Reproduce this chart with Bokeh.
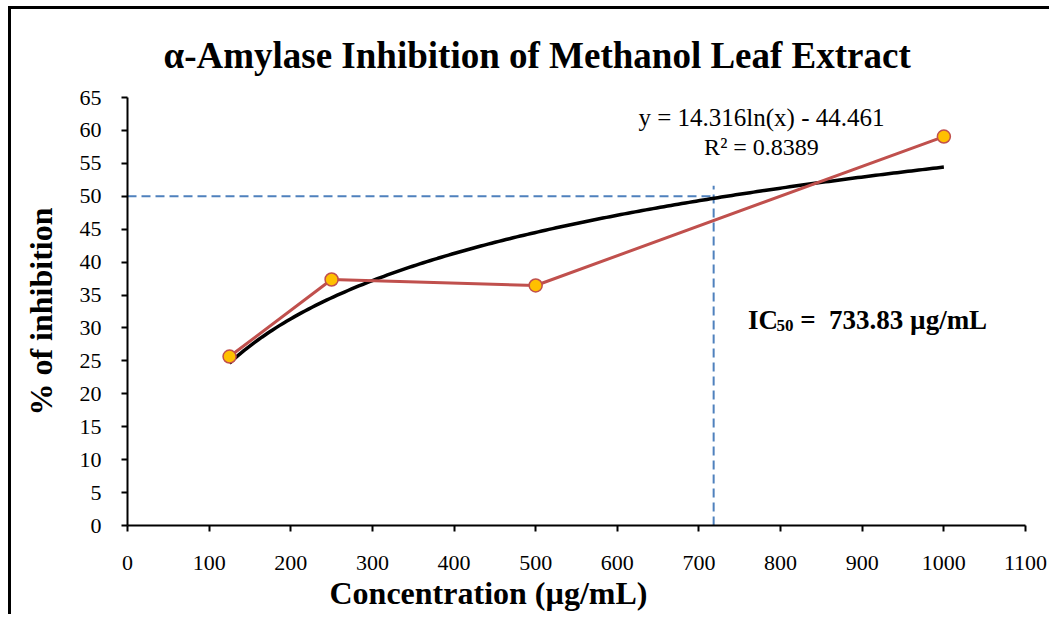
import numpy as np
from bokeh.plotting import figure
from bokeh.models import Range1d, FixedTicker, Label, Title
from bokeh.embed import file_html
from bokeh.resources import INLINE

# ---- data ----
concentration = [125, 250, 500, 1000]
inhibition = [25.66, 37.36, 36.45, 59.07]
trend_a = 14.316
trend_b = -44.461
ic50_line_x = 718
ic50_line_y = 50
ic50_line_top = 51.6
x_ticks = [0, 100, 200, 300, 400, 500, 600, 700, 800, 900, 1000, 1100]
y_ticks = [0, 5, 10, 15, 20, 25, 30, 35, 40, 45, 50, 55, 60, 65]
title_text = "α-Amylase Inhibition of Methanol Leaf Extract"
x_label = "Concentration (µg/mL)"
y_label = "% of inhibition"
eq_text = "y = 14.316ln(x) - 44.461"
r2_text = "R² = 0.8389"

FONT = "Liberation Serif"

p = figure(width=1041, height=608, output_backend="svg", toolbar_location=None,
           x_range=Range1d(0, 1100), y_range=Range1d(0, 65),
           min_border_left=116, min_border_right=27, min_border_top=88, min_border_bottom=92)
p.margin = (6, 0, 0, 8)
p.outline_line_color = None
p.grid.visible = False
p.background_fill_color = "white"
p.border_fill_color = "white"
p.styles = {"border-left": "3px solid black", "border-top": "3px solid black"}

p.title.text = title_text
p.title.align = "left"
p.title.offset = 36
p.title.text_font = FONT
p.title.text_font_size = "37px"
p.title.text_font_style = "bold"
p.title.text_color = "black"
p.title.standoff = 44

for ax, ticks in ((p.xaxis[0], x_ticks), (p.yaxis[0], y_ticks)):
    ax.ticker = FixedTicker(ticks=ticks)
    ax.axis_line_color = "black"
    ax.axis_line_width = 2
    ax.major_tick_line_color = "black"
    ax.major_tick_line_width = 2
    ax.major_tick_out = 6
    ax.major_tick_in = 0
    ax.minor_tick_line_color = None
    ax.major_label_text_font = FONT
    ax.major_label_text_font_size = "22px"
    ax.major_label_text_color = "black"
p.xaxis.major_label_standoff = 24
p.yaxis.major_label_standoff = 20

p.yaxis.axis_label = y_label
p.yaxis.axis_label_text_font = FONT
p.yaxis.axis_label_text_font_size = "32px"
p.yaxis.axis_label_text_font_style = "bold"
p.yaxis.axis_label_text_color = "black"
p.yaxis.axis_label_standoff = 18

p.add_layout(Title(text=x_label, align="left", offset=202, text_font=FONT, text_font_size="32px",
                   text_font_style="bold", text_color="black", standoff=1), "below")

# IC50 guide lines
p.line([0, ic50_line_x], [ic50_line_y, ic50_line_y], line_color="#4F81BD", line_width=2, line_dash="9 5")
p.line([ic50_line_x, ic50_line_x], [0, ic50_line_top], line_color="#4F81BD", line_width=2, line_dash="9 5")

# trendline
tx = np.linspace(min(concentration), max(concentration), 200)
ty = trend_a * np.log(tx) + trend_b
p.line(tx, ty, line_color="black", line_width=3.5)

# data series
p.line(concentration, inhibition, line_color="#C0504D", line_width=3)
p.scatter(concentration, inhibition, size=13, fill_color="#FFC000", line_color="#C0504D", line_width=1.5)

def lab(x, y, text, size, bold=False, align="center", baseline="alphabetic"):
    p.add_layout(Label(x=x, y=y, text=text, text_font=FONT, text_font_size=size,
                       text_font_style="bold" if bold else "normal", text_align=align,
                       text_baseline=baseline, text_color="black"))

lab(776.6, 62.0, eq_text, "25px", baseline="middle")
lab(776.6, 57.5, r2_text, "24px", baseline="middle")
lab(760.0, 31.28, "IC", "27px", bold=True, align="left")
lab(795.0, 30.40, "50", "17px", bold=True, align="left")
lab(824.0, 31.28, "=\u00a0\u00a0733.83 µg/mL", "27px", bold=True, align="left")

open("out.html", "w").write(file_html(p, INLINE))
